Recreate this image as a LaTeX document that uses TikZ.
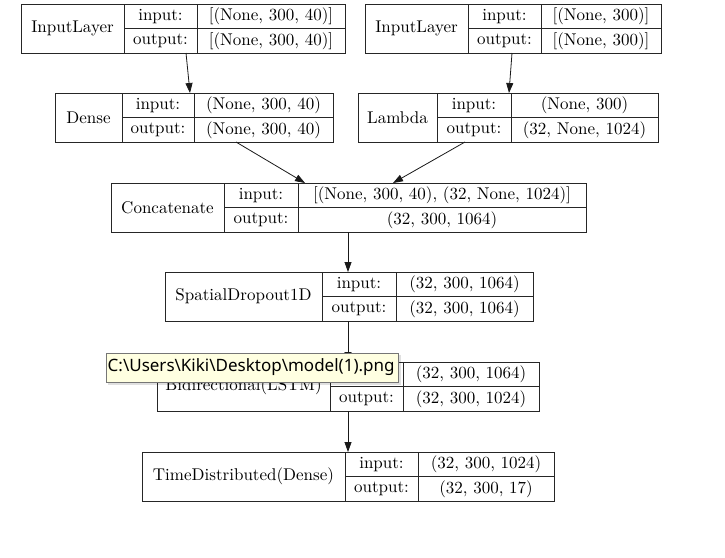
\documentclass[tikz,border=0pt]{standalone}
\usepackage{fontspec}
\newfontfamily\tipfont{Noto Sans}
\newfontfamily\boxfont{lmroman10-regular.otf}
\usetikzlibrary{arrows.meta}
\definecolor{tipfill}{HTML}{FFFFE1}
\definecolor{tipedge}{HTML}{767676}
\tikzset{
  boxline/.style={draw=black!85, line width=0.9pt},
  layerbox/.style={boxline, rectangle, inner sep=0pt, outer sep=0pt, fill=white},
  txt/.style={inner sep=0pt, font=\boxfont\fontsize{17}{20}\selectfont},
  arr/.style={draw=black!90, line width=0.8pt, -{Triangle[length=10pt,width=7pt]}},
}
% #1 name, #2 left, #3 top, #4 right, #5 first divider, #6 second divider,
% #7 layer title, #8 input shape, #9 output shape
\newcommand\layer[9]{%
  \node[layerbox, minimum width={(#4-#2)*1pt}, minimum height=49pt, anchor=north west] (#1) at (#2,#3) {};
  \draw[boxline] (#5,#3) -- (#5,#3+49) (#6,#3) -- (#6,#3+49) (#5,#3+24.5) -- (#4,#3+24.5);
  \node[txt] (#1-title) at ({(#2+#5)/2},#3+24.5) {#7};
  \node[txt] (#1-inl) at ({(#5+#6)/2},#3+12.25) {input:};
  \node[txt] (#1-outl) at ({(#5+#6)/2},#3+36.75) {output:};
  \node[txt] (#1-inv) at ({(#6+#4)/2},#3+12.25) {#8};
  \node[txt] (#1-outv) at ({(#6+#4)/2},#3+36.75) {#9};
}
\begin{document}
\begin{tikzpicture}[x=1pt, y=-1pt]
  \useasboundingbox[fill=white] (0,0) rectangle (725,557);

  \layer{in1}{21}{4}{345}{124}{197}{InputLayer}{[(None, 300, 40)]}{[(None, 300, 40)]}
  \layer{in2}{365}{4}{661}{468}{541}{InputLayer}{[(None, 300)]}{[(None, 300)]}
  \layer{dense}{55}{93}{333}{122}{194}{Dense}{(None, 300, 40)}{(None, 300, 40)}
  \layer{lambda}{358}{93}{658}{437}{511}{Lambda}{(None, 300)}{(32, None, 1024)}
  \layer{concat}{111}{183}{586}{224}{298}{Concatenate}{[(None, 300, 40), (32, None, 1024)]}{(32, 300, 1064)}
  \layer{spatial}{165}{272}{533}{322}{396}{SpatialDropout1D}{(32, 300, 1064)}{(32, 300, 1064)}
  \layer{bilstm}{157}{362}{539}{330}{403}{Bidirectional(LSTM)}{(32, 300, 1064)}{(32, 300, 1024)}
  \layer{td}{142}{452}{554}{345}{418}{TimeDistributed(Dense)}{(32, 300, 1024)}{(32, 300, 17)}

  % connections between layers
  \draw[arr] ([xshift=165pt]in1.south west) -- ([xshift=135pt]dense.north west);
  \draw[arr] ([xshift=147pt]in2.south west) -- ([xshift=151pt]lambda.north west);
  \draw[arr] ([xshift=181pt]dense.south west) -- ([xshift=194pt]concat.north west);
  \draw[arr] ([xshift=107pt]lambda.south west) -- ([xshift=282pt]concat.north west);
  \draw[arr] ([xshift=237pt]concat.south west) -- ([xshift=183pt]spatial.north west);
  \draw[arr] ([xshift=183pt]spatial.south west) -- ([xshift=191pt]bilstm.north west);
  \draw[arr] ([xshift=191pt]bilstm.south west) -- ([xshift=206pt]td.north west);

  % file-name tooltip over the LSTM layer
  \fill[black, opacity=0.12] (108,355) rectangle (401,385);
  \node[draw=tipedge, fill=tipfill, line width=0.8pt, rectangle, inner sep=0pt, outer sep=0pt,
        minimum width=292pt, minimum height=29pt, anchor=north west] (tip) at (106,353) {};
  \node[anchor=west, inner sep=0pt, font=\tipfont\fontsize{17}{20}\selectfont, text=black]
        (tiptext) at ([xshift=1.5pt]tip.west) {C:\textbackslash Users\textbackslash Kiki\textbackslash Desktop\textbackslash model(1).png};
\end{tikzpicture}
\end{document}
